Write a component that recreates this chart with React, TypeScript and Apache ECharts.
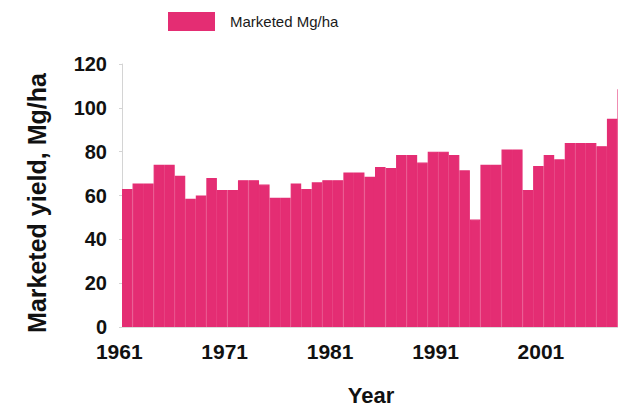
import React, { useEffect, useRef } from "react";
import * as echarts from "echarts";

const years: string[] = [
  "1961", "1962", "1963", "1964", "1965", "1966", "1967", "1968", "1969", "1970",
  "1971", "1972", "1973", "1974", "1975", "1976", "1977", "1978", "1979", "1980",
  "1981", "1982", "1983", "1984", "1985", "1986", "1987", "1988", "1989", "1990",
  "1991", "1992", "1993", "1994", "1995", "1996", "1997", "1998", "1999", "2000",
  "2001", "2002", "2003", "2004", "2005", "2006", "2007", "2008",
];

const marketedYield: number[] = [
  63, 65.5, 65.5, 74, 74, 69, 58.5, 60, 68, 62.5,
  62.5, 67, 67, 65, 59, 59, 65.5, 63, 66, 67,
  67, 70.5, 70.5, 68.5, 73, 72.5, 78.5, 78.5, 75, 80,
  80, 78.5, 71.5, 49, 74, 74, 81, 81, 62.5, 73.5,
  78.5, 76.5, 84, 84, 84, 82.5, 95, 108.5,
];

const seriesName = "Marketed Mg/ha";
const yAxisTitle = "Marketed yield, Mg/ha";
const xAxisTitle = "Year";
const yMin = 0;
const yMax = 120;
const yInterval = 20;

const BAR_COLOR = "#E42D73";
const FONT = "'Liberation Sans', Arial, Helvetica, sans-serif";

export default function App() {
  const ref = useRef<HTMLDivElement>(null);

  useEffect(() => {
    if (!ref.current) return;
    const chart = echarts.init(ref.current, undefined, { renderer: "svg" });
    chart.setOption({
      animation: false,
      backgroundColor: "#ffffff",
      textStyle: { fontFamily: FONT },
      legend: {
        data: [seriesName],
        left: 163,
        top: 7,
        itemWidth: 47,
        itemHeight: 19,
        icon: "rect",
        selectedMode: false,
        itemStyle: { borderWidth: 0 },
        textStyle: {
          fontFamily: FONT,
          fontSize: 15,
          color: "#1a1a1a",
          padding: [12, 0, 0, 10],
        },
      },
      grid: { left: 122, right: 0, top: 64, bottom: 78 },
      xAxis: {
        type: "category",
        data: years,
        boundaryGap: true,
        name: xAxisTitle,
        nameLocation: "middle",
        nameGap: 57,
        nameTextStyle: {
          fontFamily: FONT,
          fontSize: 22,
          fontWeight: "bold",
          color: "#111",
          padding: [0, 8, 0, 0],
        },
        axisLine: { show: true, lineStyle: { color: "#dcdcdc", width: 1 } },
        axisTick: { show: false },
        axisLabel: {
          interval: 9,
          margin: 14,
          fontFamily: FONT,
          fontSize: 21,
          fontWeight: "bold",
          color: "#111",
          padding: [0, 16, 0, 0],
        },
        splitLine: { show: false },
      },
      yAxis: {
        type: "value",
        min: yMin,
        max: yMax,
        interval: yInterval,
        name: yAxisTitle,
        nameLocation: "middle",
        nameRotate: 90,
        nameGap: 73,
        nameTextStyle: {
          fontFamily: FONT,
          fontSize: 25,
          fontWeight: "bold",
          color: "#111",
          padding: [0, 15, 0, 0],
        },
        axisLine: { show: true, lineStyle: { color: "#d4d4d4", width: 1 } },
        axisTick: { show: true, length: 3, lineStyle: { color: "#d4d4d4" } },
        axisLabel: {
          margin: 15,
          fontFamily: FONT,
          fontSize: 20,
          fontWeight: "bold",
          color: "#111",
        },
        splitLine: { show: false },
      },
      series: [
        {
          name: seriesName,
          type: "bar",
          data: marketedYield,
          barCategoryGap: "0%",
          itemStyle: { color: BAR_COLOR, borderColor: BAR_COLOR, borderWidth: 1.2 },
        },
      ],
    });
    return () => chart.dispose();
  }, []);

  return (
    <div
      style={{
        position: "fixed",
        left: 0,
        top: 0,
        width: 618,
        height: 411,
        overflow: "hidden",
        background: "#fff",
      }}
    >
      <div ref={ref} style={{ width: 628, height: 411 }} />
    </div>
  );
}
